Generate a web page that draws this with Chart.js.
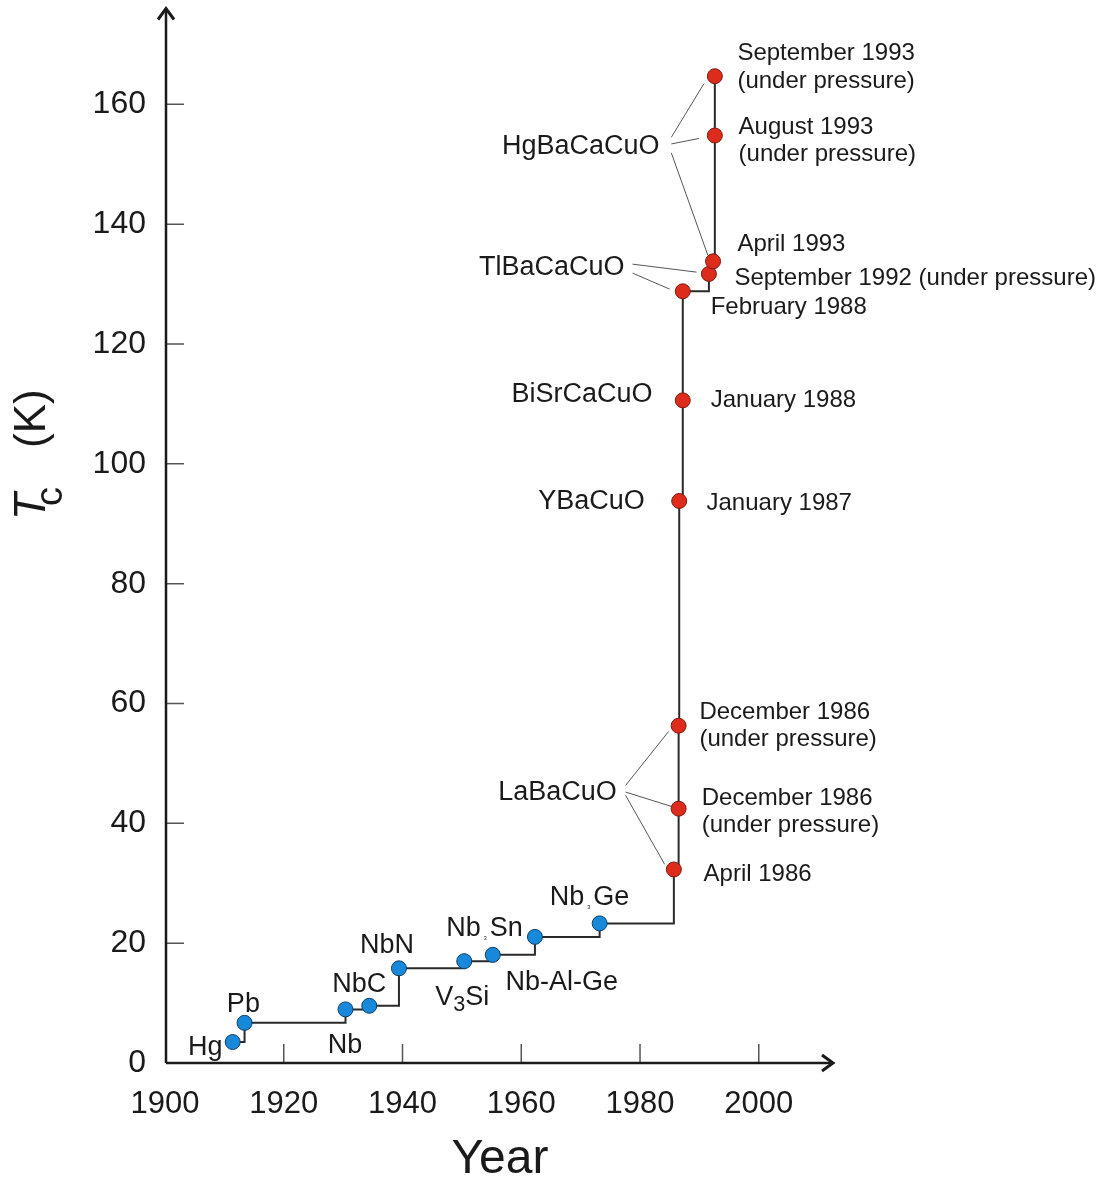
<!DOCTYPE html>
<html>
<head>
<meta charset="utf-8">
<script src="https://cdn.jsdelivr.net/npm/chart.js@4.4.1/dist/chart.umd.min.js"></script>
<style>
    html, body { margin: 0; padding: 0; background: #fff; }
    #wrap { width: 1098px; height: 1179px; }
</style>
</head>
<body>
<div id="wrap"><canvas id="tcChart" width="1098" height="1179"></canvas></div>
<script>
var FONT = "'Liberation Sans', Arial, Helvetica, sans-serif";
var INK = '#1a1a1a';

/* conventional superconductors: Hg, Pb, Nb, NbC, NbN, V3Si, Nb3Sn, Nb-Al-Ge, Nb3Ge */
var lowYears = [1911.4, 1913.4, 1930.4, 1934.4, 1939.4, 1950.4, 1955.2, 1962.3, 1973.2];
var lowTc    = [3.5, 6.7, 8.95, 9.55, 15.8, 17.0, 18.05, 21.05, 23.3];

/* cuprates, in order of discovery */
var highYears = [1985.7, 1986.5, 1986.5, 1986.6, 1987.2, 1987.2, 1991.6, 1992.3, 1992.6, 1992.6];
var highTc    = [32.3, 42.45, 56.3, 93.8, 110.6, 128.8, 131.7, 133.8, 154.8, 164.7];

var xTickValues = [1900, 1920, 1940, 1960, 1980, 2000];
var yTickValues = [0, 20, 40, 60, 80, 100, 120, 140, 160];

/* labels: [parts, year, Tc, align]; a part is [text, size factor, baseline shift, gap] */
var materialLabels = [
    [[['Hg']], 1909.7, 3.0, 'right'],
    [[['Pb']], 1913.2, 10.2, 'center'],
    [[['Nb']], 1930.3, 3.2, 'center'],
    [[['NbC']], 1932.7, 13.5, 'center'],
    [[['NbN']], 1937.4, 19.9, 'center'],
    [[['V'], ['3', 0.8, 6], ['Si']], 1950.05, 11.3, 'center'],
    [[['Nb'], ['3', 0.2, 4, 3], ['Sn']], 1953.8, 22.8, 'center'],
    [[['Nb-Al-Ge']], 1966.8, 13.8, 'center'],
    [[['Nb'], ['3', 0.2, 4, 3], ['Ge']], 1971.5, 28.0, 'center']
];
var compoundLabels = [
    ['HgBaCaCuO', 1983.3, 153.3],
    ['TlBaCaCuO', 1977.4, 133.2],
    ['BiSrCaCuO', 1982.1, 112.0],
    ['YBaCuO', 1980.8, 94.0],
    ['LaBaCuO', 1976.1, 45.5]
];
var dateLabels = [
    ['September 1993', 1996.4, 168.8],
    ['(under pressure)', 1996.4, 164.2],
    ['August 1993', 1996.6, 156.5],
    ['(under pressure)', 1996.6, 152.0],
    ['April 1993', 1996.4, 137.0],
    ['September 1992 (under pressure)', 1995.9, 131.3],
    ['February 1988', 1991.9, 126.5],
    ['January 1988', 1991.9, 111.0],
    ['January 1987', 1991.2, 93.8],
    ['December 1986', 1990.0, 58.8],
    ['(under pressure)', 1990.0, 54.3],
    ['December 1986', 1990.4, 44.5],
    ['(under pressure)', 1990.4, 40.0],
    ['April 1986', 1990.7, 31.8]
];
var leaderLines = [
    [1985.27, 154.5, 1990.76, 163.45],
    [1985.27, 153.4, 1989.92, 154.3],
    [1985.27, 151.9, 1991.43, 134.8],
    [1978.75, 133.33, 1989.52, 132.0],
    [1978.75, 131.83, 1984.98, 129.17],
    [1977.57, 46.33, 1984.81, 55.33],
    [1977.57, 45.22, 1985.27, 42.83],
    [1977.57, 44.67, 1984.14, 33.17]
];

function toPoints(xs, ys) {
    return xs.map(function (x, i) { return { x: x, y: ys[i] }; });
}

function drawParts(ctx, parts, x, baseline, size, align) {
    var widths = parts.map(function (p) {
        ctx.font = (size * (p[1] || 1)) + 'px ' + FONT;
        return ctx.measureText(p[0]).width + 2 * (p[3] || 0);
    });
    var total = widths.reduce(function (a, b) { return a + b; }, 0);
    var cx = align === 'right' ? x - total : (align === 'center' ? x - total / 2 : x);
    ctx.textAlign = 'left';
    ctx.textBaseline = 'alphabetic';
    parts.forEach(function (p, i) {
        ctx.font = (size * (p[1] || 1)) + 'px ' + FONT;
        ctx.fillText(p[0], cx + (p[3] || 0), baseline + (p[2] || 0));
        cx += widths[i];
    });
}

var axesPlugin = {
    id: 'arrowAxes',
    beforeDatasetsDraw: function (chart) {
        var ctx = chart.ctx, xs = chart.scales.x, ys = chart.scales.y;
        var x0 = xs.getPixelForValue(1900) + 1, y0 = ys.getPixelForValue(0);
        var xEnd = xs.right, yEnd = ys.top;
        ctx.save();
        // inward tick marks
        ctx.strokeStyle = '#555';
        ctx.lineWidth = 1.5;
        ctx.beginPath();
        xTickValues.forEach(function (v) {
            if (v === 1900) return;
            var px = xs.getPixelForValue(v);
            ctx.moveTo(px, y0);
            ctx.lineTo(px, y0 - 19);
        });
        yTickValues.forEach(function (v) {
            if (v === 0) return;
            var py = ys.getPixelForValue(v);
            ctx.moveTo(x0, py);
            ctx.lineTo(x0 + 18, py);
        });
        ctx.stroke();
        // axis lines + arrow heads
        ctx.strokeStyle = INK;
        ctx.lineWidth = 2.5;
        ctx.beginPath();
        ctx.moveTo(x0, y0); ctx.lineTo(xEnd, y0);
        ctx.moveTo(x0, y0); ctx.lineTo(x0, yEnd);
        ctx.stroke();
        ctx.lineWidth = 3;
        ctx.lineJoin = 'miter';
        ctx.beginPath();
        ctx.moveTo(xEnd - 11, y0 - 8); ctx.lineTo(xEnd, y0); ctx.lineTo(xEnd - 11, y0 + 8);
        ctx.moveTo(x0 - 8, yEnd + 11); ctx.lineTo(x0, yEnd); ctx.lineTo(x0 + 8, yEnd + 11);
        ctx.stroke();
        ctx.restore();
    }
};

var labelsPlugin = {
    id: 'materialLabels',
    afterDraw: function (chart) {
        var ctx = chart.ctx, xs = chart.scales.x, ys = chart.scales.y;
        ctx.save();
        // leader lines
        ctx.strokeStyle = '#555';
        ctx.lineWidth = 1;
        leaderLines.forEach(function (l) {
            ctx.beginPath();
            ctx.moveTo(xs.getPixelForValue(l[0]), ys.getPixelForValue(l[1]));
            ctx.lineTo(xs.getPixelForValue(l[2]), ys.getPixelForValue(l[3]));
            ctx.stroke();
        });
        ctx.fillStyle = INK;
        materialLabels.forEach(function (m) {
            drawParts(ctx, m[0], xs.getPixelForValue(m[1]), ys.getPixelForValue(m[2]) + 27 * 0.358, 27, m[3]);
        });
        compoundLabels.forEach(function (c) {
            drawParts(ctx, [[c[0]]], xs.getPixelForValue(c[1]), ys.getPixelForValue(c[2]) + 27 * 0.358, 27, 'right');
        });
        dateLabels.forEach(function (d) {
            drawParts(ctx, [[d[0]]], xs.getPixelForValue(d[1]), ys.getPixelForValue(d[2]) + 24 * 0.358, 24, 'left');
        });

        // x title
        ctx.font = '48px ' + FONT;
        ctx.textAlign = 'center';
        ctx.textBaseline = 'alphabetic';
        ctx.fillText('Year', 500, 1173);

        // y title: Tc (K), rotated
        ctx.translate(45, 520);
        ctx.rotate(-Math.PI / 2);
        ctx.textAlign = 'left';
        ctx.font = 'italic 44px ' + FONT;
        ctx.fillText('T', 0, 0);
        ctx.font = '38px ' + FONT;
        ctx.fillText('c', 14, 17);
        ctx.font = '44px ' + FONT;
        ctx.fillText('(K)', 72, 0);
        ctx.restore();
    }
};

new Chart(document.getElementById('tcChart'), {
    type: 'scatter',
    data: {
        datasets: [
            {
                label: 'Cuprates',
                data: toPoints(highYears, highTc),
                pointRadius: 7.5,
                backgroundColor: '#dd2b1c',
                borderColor: '#7a1b12',
                borderWidth: 1
            },
            {
                label: 'Conventional',
                data: toPoints(lowYears, lowTc),
                pointRadius: 7.5,
                backgroundColor: '#1889da',
                borderColor: '#0d3f66',
                borderWidth: 1
            },
            {
                label: 'Record Tc',
                data: toPoints(lowYears.concat(highYears), lowTc.concat(highTc)),
                showLine: true,
                stepped: true,
                borderColor: '#2a2a2a',
                borderWidth: 2,
                pointRadius: 0
            }
        ]
    },
    options: {
        responsive: false,
        animation: false,
        events: [],
        layout: { padding: { left: 0, right: 265, top: 7, bottom: 0 } },
        plugins: { legend: { display: false }, tooltip: { enabled: false } },
        scales: {
            x: {
                type: 'linear',
                min: 1900,
                max: 2012.5,
                afterBuildTicks: function (s) { s.ticks = xTickValues.map(function (v) { return { value: v }; }); },
                afterFit: function (s) { s.height = 116; s.paddingLeft = 0; s.paddingRight = 0; },
                grid: { display: false, drawTicks: false },
                border: { display: false },
                ticks: {
                    color: INK,
                    font: { family: FONT, size: 31 },
                    padding: 23,
                    maxRotation: 0,
                    autoSkip: false,
                    callback: function (v) { return String(v); }
                }
            },
            y: {
                type: 'linear',
                min: 0,
                max: 176,
                afterBuildTicks: function (s) { s.ticks = yTickValues.map(function (v) { return { value: v }; }); },
                afterFit: function (s) { s.width = 165; s.paddingTop = 0; s.paddingBottom = 0; },
                grid: { display: false, drawTicks: false },
                border: { display: false },
                ticks: { color: INK, font: { family: FONT, size: 32 }, padding: 19, autoSkip: false }
            }
        }
    },
    plugins: [axesPlugin, labelsPlugin]
});
</script>
</body>
</html>
